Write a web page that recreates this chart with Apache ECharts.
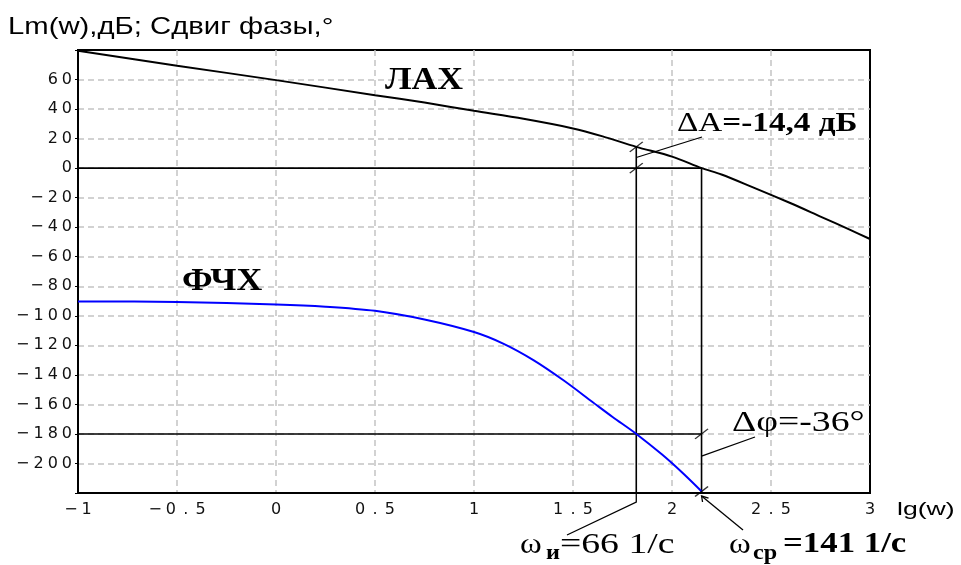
<!DOCTYPE html>
<html>
<head>
<meta charset="utf-8">
<script src="https://cdn.jsdelivr.net/npm/echarts@6/dist/echarts.min.js"></script>
<style>
  html, body { margin: 0; padding: 0; background: #fff; }
  #chart { width: 961px; height: 565px; }
</style>
</head>
<body>
<div id="chart"></div>
<script>
// ЛАХ, дБ
const lgLax = [-1, -0.5, 0, 0.5, 0.75, 1, 1.25, 1.5, 1.65, 1.82, 2, 2.15, 2.25, 2.4, 2.6, 2.75, 2.9, 3];
const laxDb = [79.5, 69.4, 59.6, 49.4, 44.4, 38.8, 33.4, 26.9, 21.5, 14.4, 7.8, 0, -4.3, -12.5, -23.8, -32.8, -41.8, -48];

// ФЧХ, градусы
const lgPhase = [-1, -0.5, 0, 0.25, 0.5, 0.75, 1, 1.15, 1.3, 1.45, 1.6, 1.7, 1.82, 1.95, 2.05, 2.15];
const phaseDeg = [-90.3, -90.6, -92.3, -93.8, -96.6, -102.5, -111, -119, -130, -143.5, -158.5, -168.5, -180, -194, -206, -219];

// характерные частоты, 1/с
const wInv = 66;    // ω_и, фаза = -180°
const wCut = 141;   // ω_ср, ЛАХ = 0
const gainAtInv = 14.4;
const phaseAtCut = -219;

const lgInv = Math.log10(wInv);
const lgCut = Math.log10(wCut);

const pair = (xs, ys) => xs.map((x, i) => [x, ys[i]]);
// wide, spaced-out tick labels like in the original
const spaced = v => String(v).replace('-', '\u2212').split('').join('\u2005').replace('.', '\u2009.\u2009');

const chart = echarts.init(document.getElementById('chart'));

const gridLine = { showMinLine: false, showMaxLine: false, lineStyle: { color: '#c4c4c4', type: [6, 4], width: 1.5 } };
const labelStyle = { color: '#111', fontFamily: 'DejaVu Sans', fontSize: 16 };

const blackLine = data => ({
  type: 'line', data, symbol: 'none', silent: true, clip: false, z: 3,
  lineStyle: { color: '#000', width: 1.6 }
});

chart.setOption({
  animation: false,
  grid: { left: 78, right: 91, top: 50, bottom: 72, show: true, borderColor: '#000', borderWidth: 2 },
  xAxis: {
    type: 'value', min: -1, max: 3, interval: 0.5,
    axisLine: { onZero: false, lineStyle: { color: '#000', width: 2 } },
    axisTick: { show: false },
    splitLine: gridLine,
    axisLabel: Object.assign({ formatter: spaced, margin: 9 }, labelStyle)
  },
  yAxis: {
    type: 'value', min: -220, max: 80, interval: 20,
    axisLine: { show: true, onZero: false, lineStyle: { color: '#000', width: 2 } },
    axisTick: { show: true, length: 3, lineStyle: { color: '#000' } },
    splitLine: gridLine,
    axisLabel: Object.assign({
      formatter: v => (v <= -220 || v >= 80) ? '' : spaced(v), margin: 6
    }, labelStyle)
  },
  series: [
    // ЛАХ
    {
      type: 'line', data: pair(lgLax, laxDb), symbol: 'none', z: 4, smooth: 0.3,
      lineStyle: { color: '#000', width: 2 }
    },
    // ФЧХ
    {
      type: 'line', data: pair(lgPhase, phaseDeg), symbol: 'none', z: 4, smooth: 0.3,
      lineStyle: { color: '#0000ff', width: 2 }
    },
    blackLine([[-1, 0], [lgCut, 0]]),
    blackLine([[-1, -180], [lgCut, -180]]),
    blackLine([[lgInv, gainAtInv], [lgInv, -220]]),
    blackLine([[lgCut, 0], [lgCut, -220]]),
    // засечки
    {
      type: 'scatter', silent: true, z: 5,
      data: [[lgInv, gainAtInv], [lgInv, 0], [lgCut, -180], [lgCut, phaseAtCut]],
      symbol: 'path://M0,10L14,0', symbolSize: [13, 10],
      itemStyle: { color: 'none', borderColor: '#000', borderWidth: 1.3 }
    }
  ]
});

// подписи и выноски
const px = (x, y) => chart.convertToPixel({ gridIndex: 0 }, [x, y]);
const serif = '"Liberation Serif", "Times New Roman", serif';
const sans = '"Liberation Sans", Arial, sans-serif';
const lead = (points) => ({
  type: 'polyline', silent: true, z: 10,
  shape: { points }, style: { stroke: '#000', lineWidth: 1.3, fill: null }
});
const txt = (x, y, text, font, scaleX, extra) => ({
  type: 'text', x, y, scaleX: scaleX || 1, silent: true, z: 10,
  style: Object.assign({ text, font, fill: '#000', verticalAlign: 'middle' }, extra || {})
});

const pInvTop = px(lgInv, gainAtInv / 2);
const pInvBot = px(lgInv, -220);
const pCutMid = px(lgCut, -195);
const pCutBot = px(lgCut, -220);

chart.setOption({
  graphic: [
    txt(8, 27, 'Lm(w),дБ; Сдвиг фазы,°', '24px ' + sans, 1.22),
    txt(897, 510, 'lg(w)', '19px ' + sans, 1.4),
    txt(385, 81, 'ЛАХ', 'bold 31px ' + serif, 1.15),
    txt(182, 282, 'ФЧХ', 'bold 31px ' + serif, 1.15),
    {
      type: 'text', x: 677, y: 124, scaleX: 1.23, silent: true, z: 10,
      style: {
        text: '{a|ΔA}{b|=-14,4 дБ}', verticalAlign: 'middle',
        rich: {
          a: { font: '27px ' + serif, fill: '#000' },
          b: { font: 'bold 27px ' + serif, fill: '#000' }
        }
      }
    },
    txt(732, 423, 'Δφ=-36°', '29px ' + serif, 1.3),
    // ω_и
    txt(520, 545, 'ω', '30px ' + serif, 1.1),
    txt(546, 553, 'и', 'bold 22px ' + serif, 1.1),
    txt(560, 545, '=66 1/с', '29px ' + serif, 1.3),
    // ω_ср
    txt(729, 545, 'ω', '30px ' + serif, 1.1),
    txt(753, 553, 'ср', 'bold 22px ' + serif, 1.1),
    txt(783, 545, '=141 1/с', 'bold 29px ' + serif, 1.2),
    // выноски
    lead([[pInvTop[0], pInvTop[1]], [702, 137]]),
    lead([[pCutMid[0], pCutMid[1]], [755, 437]]),
    lead([[pInvBot[0], pInvBot[1]], [pInvBot[0], pInvBot[1] + 9], [567, 535]]),
    lead([[pCutBot[0], pCutBot[1] + 3], [743, 530]]),
    lead([[pCutBot[0] + 1, pCutBot[1] + 9], [pCutBot[0], pCutBot[1] + 3], [pCutBot[0] + 7, pCutBot[1] + 5]])
  ]
});
</script>
</body>
</html>
